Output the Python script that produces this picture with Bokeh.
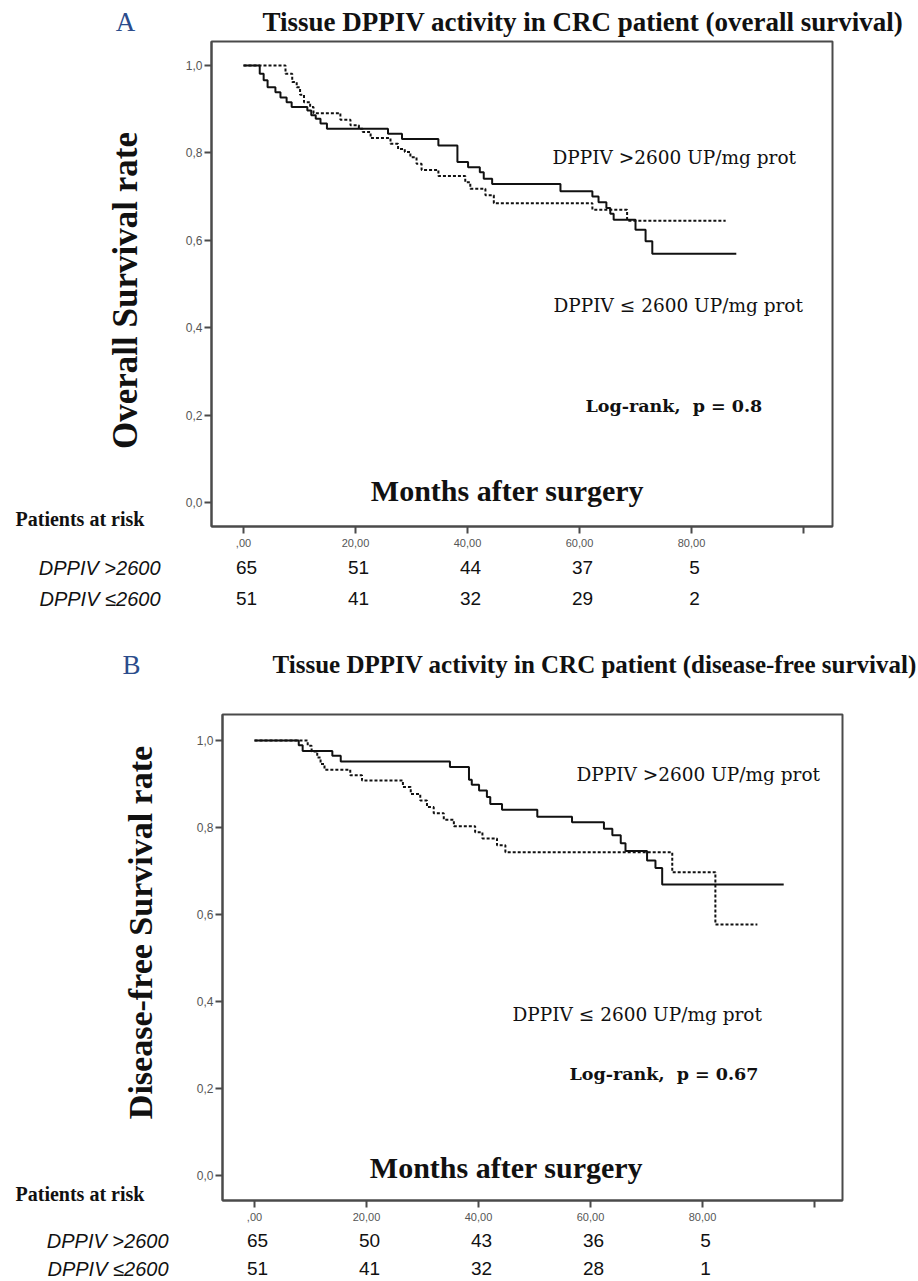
import math
from bokeh.plotting import figure
from bokeh.models import Range1d, Label, FixedTicker, CustomJSTickFormatter, LinearAxis
from bokeh.layouts import column
from bokeh.embed import file_html
from bokeh.resources import INLINE

# ---------------- data ----------------
x_ticks = [0, 20, 40, 60, 80, 100]
x_tick_labels = [",00", "20,00", "40,00", "60,00", "80,00", ""]
y_ticks = [0.0, 0.2, 0.4, 0.6, 0.8, 1.0]
y_tick_labels = ["0,0", "0,2", "0,4", "0,6", "0,8", "1,0"]

risk_times = [0, 20, 40, 60, 80]
group_labels = ["DPPIV >2600", "DPPIV \u22642600"]

# Panel A: overall survival
a_high_t = [0, 2.9, 3.6, 4.3, 5.7, 6.6, 7.7, 8.6, 11.4, 12.1, 12.9, 13.75, 14.9, 25.8, 28.3,
            34.8, 38.2, 40.1, 42.2, 42.9, 44.4, 56.6, 62.3, 63.4, 64.8, 65.5, 66.1, 70.0, 71.8, 73.0, 88.0]
a_high_s = [1.0, 0.981, 0.966, 0.950, 0.939, 0.927, 0.916, 0.905, 0.897, 0.886, 0.878, 0.867, 0.855, 0.844, 0.832,
            0.817, 0.779, 0.767, 0.756, 0.741, 0.729, 0.712, 0.700, 0.687, 0.674, 0.661, 0.647, 0.624, 0.598, 0.569, 0.569]
a_low_t = [0, 7.5, 8.7, 9.5, 10.1, 10.8, 11.9, 12.5, 17.3, 19.1, 20.6, 21.3, 22.7, 26.25, 27.6, 28.8,
           29.8, 30.9, 31.8, 34.8, 39.6, 40.5, 43.2, 44.7, 62.3, 68.5, 86.1]
a_low_s = [1.0, 0.981, 0.962, 0.950, 0.933, 0.916, 0.905, 0.891, 0.876, 0.863, 0.855, 0.848, 0.834, 0.821, 0.809, 0.802,
           0.790, 0.775, 0.761, 0.747, 0.733, 0.718, 0.703, 0.685, 0.670, 0.645, 0.645]
a_risk_high = [65, 51, 44, 37, 5]
a_risk_low = [51, 41, 32, 29, 2]

# Panel B: disease-free survival
b_high_t = [0, 7.9, 8.6, 13.9, 15.4, 34.9, 38.3, 38.8, 40.1, 41.5, 42.1, 44.2, 50.5, 56.7, 62.4, 63.9,
            65.4, 66.25, 70.1, 71.6, 72.8, 94.5]
b_high_s = [1.0, 0.989, 0.976, 0.965, 0.952, 0.939, 0.910, 0.898, 0.885, 0.870, 0.854, 0.841, 0.825, 0.812, 0.797, 0.782,
            0.764, 0.746, 0.724, 0.707, 0.669, 0.669]
b_low_t = [0, 9.5, 10.2, 11.2, 11.8, 12.5, 17.1, 19.2, 26.5, 27.9, 29.6, 30.8, 32.0, 33.8, 35.6, 39.4,
           40.7, 43.3, 44.8, 74.6, 82.3, 89.8]
b_low_s = [1.0, 0.988, 0.975, 0.961, 0.946, 0.933, 0.920, 0.908, 0.893, 0.877, 0.862, 0.847, 0.833, 0.818, 0.803, 0.789,
           0.775, 0.759, 0.743, 0.697, 0.577, 0.577]
b_risk_high = [65, 50, 43, 36, 5]
b_risk_low = [51, 41, 32, 28, 1]

# ---------------- layout ----------------
PAGE_W = 918
SERIF = "Liberation Serif"
SERIF2 = "DejaVu Serif"
SANS = "Liberation Sans"
INK = "#111111"
FRAME = "#4a4a4a"


def make_panel(g, high_t, high_s, low_t, low_s, risk_high, risk_low, letter, title, ylabel, logrank):
    ppm = g["ppm"]
    upx = g["y0"] - g["y1"]
    fx = lambda px: (px - g["x0"]) / ppm
    fy = lambda py: (g["y0"] - py) / upx
    p = figure(width=PAGE_W, height=g["h"], output_backend="svg", toolbar_location=None,
               x_range=Range1d(fx(0), fx(PAGE_W)),
               y_range=Range1d(fy(g["ctop"] + g["h"]), fy(g["ctop"])),
               x_axis_location=None, y_axis_location=None,
               min_border=0, min_border_left=0, min_border_right=0, min_border_top=0, min_border_bottom=0)
    p.background_fill_color = "white"
    p.border_fill_color = "white"
    p.outline_line_color = None
    p.xgrid.visible = False
    p.ygrid.visible = False

    xl, xr = fx(g["left"]), fx(g["right"])
    yb, yt = fy(g["bottom"]), fy(g["top"])

    xaxis = LinearAxis(fixed_location=yb, bounds=(xl, xr), ticker=FixedTicker(ticks=x_ticks),
                       formatter=CustomJSTickFormatter(args=dict(t=x_ticks, l=x_tick_labels),
                                                       code="const i = t.indexOf(tick); return i >= 0 ? l[i] : '';"))
    yaxis = LinearAxis(fixed_location=xl, bounds=(yb, yt), ticker=FixedTicker(ticks=y_ticks),
                       formatter=CustomJSTickFormatter(args=dict(t=y_ticks, l=y_tick_labels),
                                                       code="let i = -1; for (let k = 0; k < t.length; k++) { if (Math.abs(t[k]-tick) < 1e-6) i = k; } return i >= 0 ? l[i] : '';"))
    for ax in (xaxis, yaxis):
        ax.axis_line_color = FRAME
        ax.axis_line_width = 2
        ax.major_tick_line_color = FRAME
        ax.major_tick_line_width = 2
        ax.major_tick_in = 0
        ax.major_tick_out = 7
        ax.minor_tick_line_color = None
        ax.major_label_text_color = "#555555"
        ax.major_label_text_font = SANS
    yaxis.major_label_text_font_size = "12px"
    yaxis.major_label_standoff = 2
    xaxis.major_label_text_font_size = "11px"
    xaxis.major_label_standoff = 5
    p.add_layout(xaxis, "below")
    p.add_layout(yaxis, "left")

    # plot box
    p.quad(left=[xl], right=[xr], bottom=[yb], top=[yt], fill_color=None, line_color=FRAME, line_width=2)

    p.step(high_t, high_s, mode="after", line_color=INK, line_width=2)
    p.step(low_t, low_s, mode="after", line_color=INK, line_width=2, line_dash="3 2")

    def lab(text, px, py, size, font=SERIF, style="normal", align="left", color=INK, angle=0.0):
        p.add_layout(Label(x=fx(px), y=fy(py), text=text, text_font=font, text_font_size=f"{size}px",
                           text_font_style=style, text_align=align, text_baseline="middle",
                           text_color=color, angle=angle))

    lab(letter, g["letter_x"], g["title_y"], 27, color="#2b4c8c", align="center")
    lab(title, g["title_x"], g["title_y"], g["title_size"], style="bold")
    lab(ylabel, g["ylab_x"], g["ylab_y"], g["ylab_size"], style="bold", align="center", angle=math.pi / 2)
    lab("DPPIV >2600 UP/mg prot", g["hi_x"], g["hi_y"], 18.5, font=SERIF2)
    lab("DPPIV \u2264 2600 UP/mg prot", g["lo_x"], g["lo_y"], 18.5, font=SERIF2)
    lab(logrank, g["lr_x"], g["lr_y"], 17.5, font=SERIF2, style="bold")
    lab("Months after surgery", g["mas_x"], g["mas_y"], 30, style="bold", align="center")
    lab("Patients at risk", 15, g["par_y"], 20, style="bold")
    lab(group_labels[0], g["grp_x"], g["row1_y"], 20, font=SANS, style="italic", align="right")
    lab(group_labels[1], g["grp_x"], g["row2_y"], 20, font=SANS, style="italic", align="right")
    for t, n in zip(risk_times, risk_high):
        lab(str(n), g["x0"] + t * ppm + 3, g["row1_y"], 19, font=SANS, align="center")
    for t, n in zip(risk_times, risk_low):
        lab(str(n), g["x0"] + t * ppm + 3, g["row2_y"], 19, font=SANS, align="center")
    return p


geo_a = dict(ctop=0, h=628, left=211, right=832, top=41, bottom=526, x0=243, ppm=5.6, y1=65, y0=502,
             letter_x=125, title_x=262, title_y=21, title_size=27, ylab_x=125, ylab_y=290, ylab_size=35,
             hi_x=552, hi_y=157, lo_x=553, lo_y=305, lr_x=585, lr_y=405, mas_x=507, mas_y=490,
             par_y=518, grp_x=160, row1_y=567, row2_y=598)
geo_b = dict(ctop=628, h=652, left=222, right=842, top=714, bottom=1200, x0=254, ppm=5.6, y1=740, y0=1175,
             letter_x=131, title_x=272, title_y=664, title_size=25, ylab_x=140, ylab_y=932, ylab_size=34,
             hi_x=576, hi_y=774, lo_x=512, lo_y=1014, lr_x=569, lr_y=1073, mas_x=506, mas_y=1167,
             par_y=1193, grp_x=168, row1_y=1240, row2_y=1268)

pa = make_panel(geo_a, a_high_t, a_high_s, a_low_t, a_low_s, a_risk_high, a_risk_low, "A",
                "Tissue DPPIV activity in CRC patient (overall survival)", "Overall Survival rate",
                "Log-rank,\u00a0 p = 0.8")
pb = make_panel(geo_b, b_high_t, b_high_s, b_low_t, b_low_s, b_risk_high, b_risk_low, "B",
                "Tissue DPPIV activity in CRC patient (disease-free survival)", "Disease-free Survival rate",
                "Log-rank,\u00a0 p = 0.67")

layout = column(pa, pb, spacing=0)
open("out.html", "w").write(file_html(layout, INLINE))
